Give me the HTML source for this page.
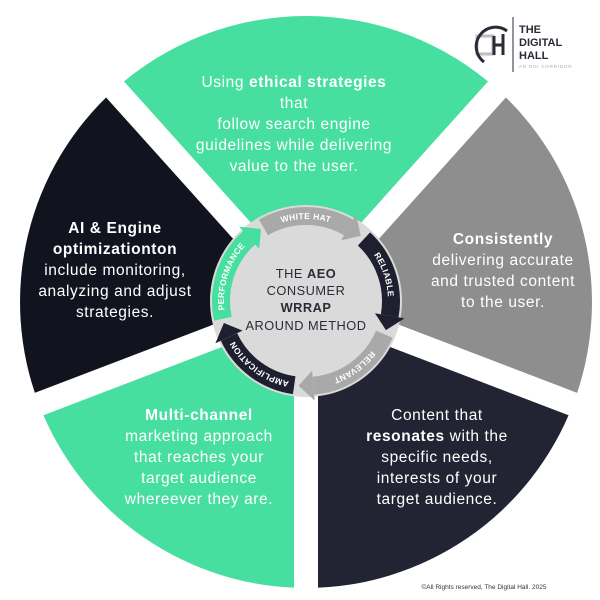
<!DOCTYPE html>
<html><head><meta charset="utf-8"><style>
html,body{margin:0;padding:0;background:#fff}
svg{display:block}
.t{font-family:"Liberation Sans",sans-serif;font-size:15.5px;fill:#fff;text-anchor:middle;letter-spacing:0.6px}
.b{font-weight:bold}
.c{font-family:"Liberation Sans",sans-serif;font-size:12.8px;fill:#2a2b36;text-anchor:middle;letter-spacing:0.5px}
.a{font-family:"Liberation Sans",sans-serif;font-size:8.5px;font-weight:bold;fill:#fff;letter-spacing:0.5px}
</style></head><body>
<svg width="600" height="600" viewBox="0 0 600 600" xmlns="http://www.w3.org/2000/svg">
<path d="M306,302 L114.6,89.5 A286,286 0 0 1 497.4,89.5 Z" fill="#47df9f"/>
<path d="M306,302 L497.4,89.5 A286,286 0 0 1 573,404.4 Z" fill="#8e8e8e"/>
<path d="M306,302 L573,404.4 A286,286 0 0 1 306,588 Z" fill="#222433"/>
<path d="M306,302 L306,588 A286,286 0 0 1 39,404.4 Z" fill="#47df9f"/>
<path d="M306,302 L39,404.4 A286,286 0 0 1 114.6,89.5 Z" fill="#11131f"/>
<g stroke="#fff" stroke-width="24">
<line x1="306" y1="302" x2="85" y2="56"/>
<line x1="306" y1="302" x2="527" y2="56"/>
<line x1="306" y1="302" x2="612" y2="419"/>
<line x1="306" y1="302" x2="306" y2="600"/>
<line x1="306" y1="302" x2="0" y2="419"/>
</g>
<circle cx="306" cy="301" r="96" fill="#dadada"/>
<g fill="none" stroke-width="18">
<path id="p1" d="M263.5,227.4 A85,85 0 0 1 348.5,227.4" stroke="#a9a9a9"/>
<path id="p2" d="M364,238.9 A85,85 0 0 1 389.7,315.8" stroke="#1e2030"/>
<path id="p3" d="M384.3,334.2 A85,85 0 0 1 313.4,385.7" stroke="#a9a9a9"/>
<path id="p4" d="M294.2,385.2 A85,85 0 0 1 229,337" stroke="#1e2030"/>
<path id="p5" d="M222.9,318.7 A85,85 0 0 1 249.1,237.8" stroke="#47df9f"/>
</g>
<polygon points="341,240.4 356,214.4 360.7,235.9" fill="#a9a9a9"/>
<polygon points="374.95,313.2 404.5,318.4 385.9,330.1" fill="#1e2030"/>
<polygon points="312.1,370.7 314.7,400.6 298.6,385.7" fill="#a9a9a9"/>
<polygon points="242.6,330.6 215.4,343.3 223.9,323" fill="#1e2030"/>
<polygon points="259.2,249 239.1,226.7 261,228.9" fill="#47df9f"/>
<text class="a" dy="3"><textPath href="#p1" startOffset="50%" text-anchor="middle">WHITE HAT</textPath></text>
<text class="a" dy="3"><textPath href="#p2" startOffset="50%" text-anchor="middle">RELIABLE</textPath></text>
<text class="a" dy="3"><textPath href="#p3" startOffset="50%" text-anchor="middle">RELEVANT</textPath></text>
<text class="a" dy="3"><textPath href="#p4" startOffset="50%" text-anchor="middle">AMPLIFICATION</textPath></text>
<text class="a" dy="3"><textPath href="#p5" startOffset="50%" text-anchor="middle">PERFORMANCE</textPath></text>
<text class="c" x="306" y="278">THE <tspan class="b">AEO</tspan></text>
<text class="c" x="306" y="295">CONSUMER</text>
<text class="c b" x="306" y="312">WRRAP</text>
<text class="c" x="306" y="330">AROUND METHOD</text>
<text class="t" x="294" y="87">Using <tspan class="b">ethical strategies</tspan></text>
<text class="t" x="294" y="108">that</text>
<text class="t" x="294" y="129">follow search engine</text>
<text class="t" x="294" y="150">guidelines while  delivering</text>
<text class="t" x="294" y="171">value to the user.</text>
<text class="t b" x="115" y="233">AI &amp; Engine</text>
<text class="t b" x="115" y="254">optimizationton</text>
<text class="t" x="115" y="275">include monitoring,</text>
<text class="t" x="115" y="296">analyzing and adjust</text>
<text class="t" x="115" y="317">strategies.</text>
<text class="t b" x="503" y="244">Consistently</text>
<text class="t" x="503" y="265">delivering accurate</text>
<text class="t" x="503" y="286">and trusted content</text>
<text class="t" x="503" y="307">to the user.</text>
<text class="t b" x="199" y="420">Multi-channel</text>
<text class="t" x="199" y="441">marketing approach</text>
<text class="t" x="199" y="462">that reaches your</text>
<text class="t" x="199" y="483">target audience</text>
<text class="t" x="199" y="504">whereever they are.</text>
<text class="t" x="437" y="420">Content that</text>
<text class="t" x="437" y="441"><tspan class="b">resonates</tspan> with the</text>
<text class="t" x="437" y="462">specific needs,</text>
<text class="t" x="437" y="483">interests of your</text>
<text class="t" x="437" y="504">target audience.</text>
<g>
<rect x="477" y="36" width="16" height="18" fill="none" stroke="#bdbdbd" stroke-width="3"/>
<path d="M484,62 A18,18 0 0 1 507,31" fill="none" stroke="#2a2b36" stroke-width="3"/>
<line x1="494" y1="36" x2="494" y2="55" stroke="#2a2b36" stroke-width="3"/>
<line x1="503" y1="34" x2="503" y2="55" stroke="#2a2b36" stroke-width="3"/>
<line x1="494" y1="45" x2="503" y2="45" stroke="#2a2b36" stroke-width="3"/>
<line x1="513" y1="17" x2="513" y2="72" stroke="#2a2b36" stroke-width="1"/>
<text x="519" y="33" font-family="Liberation Sans,sans-serif" font-size="11" font-weight="bold" fill="#2a2b36">THE</text>
<text x="519" y="46" font-family="Liberation Sans,sans-serif" font-size="11" font-weight="bold" fill="#2a2b36">DIGITAL</text>
<text x="519" y="59" font-family="Liberation Sans,sans-serif" font-size="11" font-weight="bold" fill="#2a2b36">HALL</text>
<text x="519" y="68" font-family="Liberation Sans,sans-serif" font-size="4.5" fill="#aaa" letter-spacing="0.8">AN ROI CORRIDOR</text>
</g>
<text x="484" y="589" font-family="Liberation Sans,sans-serif" font-size="6.5" fill="#333" text-anchor="middle">©All Rights reserved, The Digital Hall. 2025</text>
</svg>
</body></html>
